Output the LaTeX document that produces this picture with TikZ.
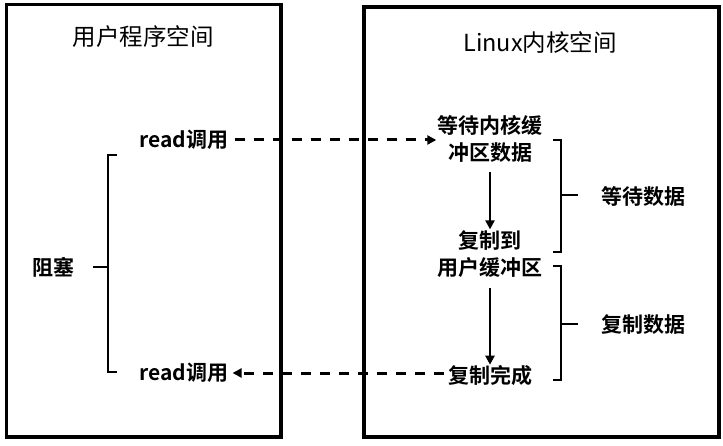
\documentclass[tikz,border=0pt]{standalone}
\usepackage{fontspec}
\setmainfont{Noto Sans CJK SC}
\newfontfamily\cjkb{Noto Sans CJK SC Bold}
\usetikzlibrary{arrows.meta,calc}
\begin{document}
\begin{tikzpicture}[x=1pt,y=-1pt,
  lbl/.style={font=\cjkb\fontsize{21}{27}\selectfont, inner sep=1pt, align=center},
  ttl/.style={font=\fontsize{23.5}{28}\selectfont, inner sep=1pt},
  frame/.style={draw, line width=3.3pt},
  brk/.style={draw, line width=2.2pt},
  flow/.style={draw, line width=2.8pt, -{Triangle[length=9pt,width=9pt]}},
  dashflow/.style={draw, line width=3pt, dash pattern=on 10pt off 9pt, -{Triangle[length=9pt,width=9pt]}}
]
\useasboundingbox (0,0) rectangle (723,446);
\draw[frame] (6.5,4.5) rectangle (281,437);
\draw[frame] (364,7) rectangle (719,437);
\node[ttl] (t1) at (143,37) {用户程序空间};
\node[ttl] (t2) at (540,43) {Linux内核空间};

\node[lbl] (r1) at (184,140) {read调用};
\node[lbl] (r2) at (184,373) {read调用};
\node[lbl] (k1) at (490,139) {等待内核缓\\冲区数据};
\node[lbl] (k2) at (490,254) {复制到\\用户缓冲区};
\node[lbl] (k3) at (490,376) {复制完成};
\node[lbl] (b) at (53,267) {阻塞};
\node[lbl] (w) at (643,196) {等待数据};
\node[lbl] (c) at (643,325) {复制数据};

\draw[dashflow] (r1.east) ++(5,0) coordinate (s1) -- (s1 -| k1.west);
\draw[dashflow] (k3.west) ++(-3,-3) coordinate (s2) -- ($(s2 -| r2.east)+(3,0)$);
\draw[flow] (490,172) coordinate (a1) -- (a1 |- k2.north);
\draw[flow] (490,288) coordinate (a2) -- (a2 |- k3.north);

% left brace
\coordinate (lb) at (108,267);
\draw[brk] (117,155) -- (108,155) -- (108,372) -- (117,372);
\draw[brk] (93,267) -- (lb);
% right braces
\coordinate (rb1) at (561,195);
\draw[brk] (553,140) -- (561,140) -- (561,252) -- (553,252);
\draw[brk] (rb1) -- (578,195);
\coordinate (rb2) at (561,324);
\draw[brk] (553,266) -- (561,266) -- (561,380) -- (553,380);
\draw[brk] (rb2) -- (578,324);
\end{tikzpicture}
\end{document}
